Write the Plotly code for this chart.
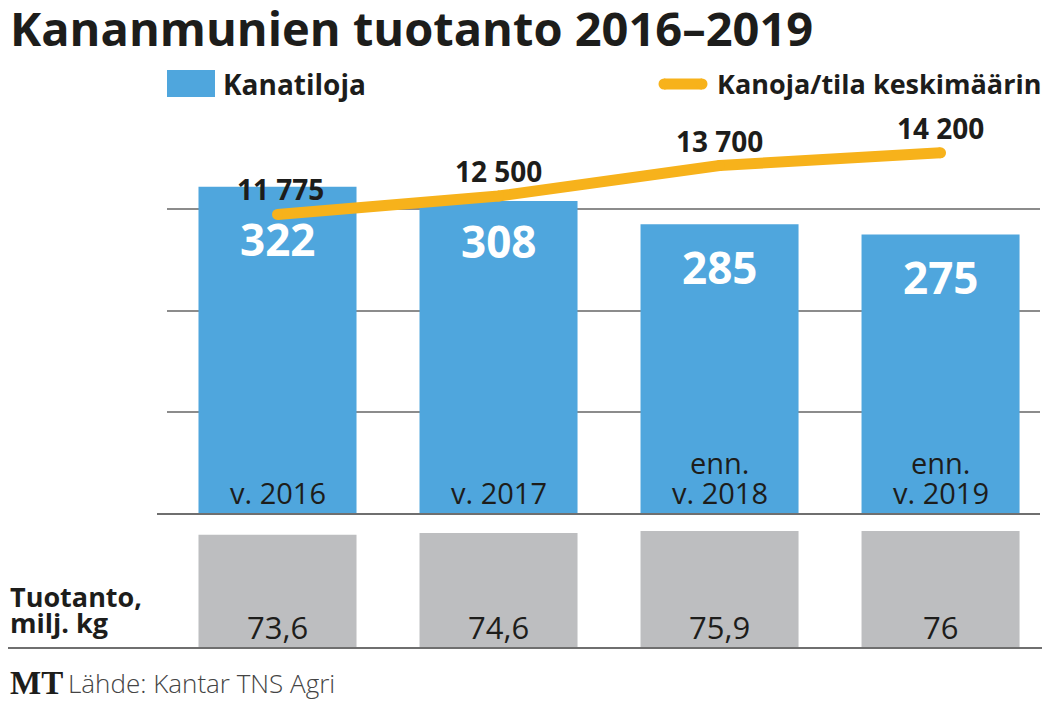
import plotly.graph_objects as go

# data
years = ["2016", "2017", "2018", "2019"]
farms = [322, 308, 285, 275]
hens_per_farm = [11775, 12500, 13700, 14200]
hens_labels = ["11 775", "12 500", "13 700", "14 200"]
year_labels = ["v. 2016", "v. 2017", "v. 2018", "v. 2019"]
year_prefix = ["", "", "enn.", "enn."]
production = [73.6, 74.6, 75.9, 76]
production_labels = ["73,6", "74,6", "75,9", "76"]

BLUE = "#4fa6dd"
GREY = "#bdbec0"
ORANGE = "#f7b21b"
DARK = "#1d1d1b"
FONT = "Open Sans, Noto Sans, sans-serif"

# the page puts the figure 8px in from the top-left corner,
# so the figure is 8px smaller and positions below are page pixels
OFF = 8
WIDTH, HEIGHT = 1050 - OFF, 702 - OFF
PLOT_L, PLOT_R, PLOT_T, PLOT_B = 167, 1040, 107, 648
L, T = PLOT_L - OFF, PLOT_T - OFF
R, B = WIDTH - (PLOT_R - OFF), HEIGHT - (PLOT_B - OFF)
PW = PLOT_R - PLOT_L
PH = PLOT_B - PLOT_T
split = (648 - 514) / PH


def px(x):
    return (x - PLOT_L) / PW


def py(y):
    return (PLOT_B - y) / PH


idx = list(range(len(years)))

fig = go.Figure()

fig.add_trace(go.Bar(
    x=idx, y=farms, marker=dict(color=BLUE, line=dict(width=0)),
    xaxis="x", yaxis="y", hoverinfo="skip",
))
fig.add_trace(go.Scatter(
    x=idx, y=hens_per_farm, mode="lines+markers",
    line=dict(color=ORANGE, width=11),
    marker=dict(color=ORANGE, size=11),
    xaxis="x", yaxis="y2", hoverinfo="skip",
))
fig.add_trace(go.Bar(
    x=idx, y=production, marker=dict(color=GREY, line=dict(width=0)),
    xaxis="x2", yaxis="y3", hoverinfo="skip",
))

ann = []

# bar value labels
value_shift = [-52, -40, -43, -42]
for i, v, s in zip(idx, farms, value_shift):
    ann.append(dict(x=i, y=v, xref="x", yref="y", text=str(v), showarrow=False,
                    yanchor="middle", yshift=s,
                    font=dict(family=FONT, size=44, color="white", weight="bold")))

# line labels
line_xshift = [3, 0, 0, 0]
for i, v, t, xs in zip(idx, hens_per_farm, hens_labels, line_xshift):
    ann.append(dict(x=i, y=v, xref="x", yref="y2", text=t, showarrow=False,
                    yanchor="middle", yshift=25, xshift=xs,
                    font=dict(family=FONT, size=28, color=DARK, weight="bold")))

# year labels inside bars
for i, t, p in zip(idx, year_labels, year_prefix):
    ann.append(dict(x=i, y=0, xref="x", yref="y", text=t, showarrow=False,
                    yanchor="middle", yshift=22,
                    font=dict(family=FONT, size=29, color=DARK)))
    if p:
        ann.append(dict(x=i, y=0, xref="x", yref="y", text=p, showarrow=False,
                        yanchor="middle", yshift=52,
                        font=dict(family=FONT, size=29, color=DARK)))

# production labels
for i, t in zip(idx, production_labels):
    ann.append(dict(x=i, y=0, xref="x2", yref="y3", text=t, showarrow=False,
                    yanchor="middle", yshift=21,
                    font=dict(family=FONT, size=31, color=DARK)))

# title, legend texts, side labels, source
ann += [
    dict(x=px(8), y=py(28), xref="paper", yref="paper", xanchor="left", yanchor="middle",
         text="Kananmunien tuotanto 2016–2019", showarrow=False,
         font=dict(family=FONT, size=47, color=DARK, weight="bold")),
    dict(x=px(221), y=py(84), xref="paper", yref="paper", xanchor="left", yanchor="middle",
         text="Kanatiloja", showarrow=False,
         font=dict(family=FONT, size=28, color=DARK, weight="bold")),
    dict(x=px(715), y=py(84), xref="paper", yref="paper", xanchor="left", yanchor="middle",
         text="Kanoja/tila keskimäärin", showarrow=False,
         font=dict(family=FONT, size=27, color=DARK, weight="bold")),
    dict(x=px(8), y=py(596), xref="paper", yref="paper", xanchor="left", yanchor="middle",
         text="Tuotanto,", showarrow=False,
         font=dict(family=FONT, size=27, color=DARK, weight="bold")),
    dict(x=px(8), y=py(622), xref="paper", yref="paper", xanchor="left", yanchor="middle",
         text="milj. kg", showarrow=False,
         font=dict(family=FONT, size=27, color=DARK, weight="bold")),
    dict(x=px(8), y=py(683), xref="paper", yref="paper", xanchor="left", yanchor="middle",
         text="MT", showarrow=False,
         font=dict(family="Liberation Serif, DejaVu Serif, serif", size=33, color=DARK,
                   weight="bold")),
    dict(x=px(66), y=py(683), xref="paper", yref="paper", xanchor="left", yanchor="middle",
         text="Lähde: Kantar TNS Agri", showarrow=False,
         font=dict(family=FONT, size=26, color="#444444", weight=300)),
]

shapes = [
    # legend swatches
    dict(type="rect", xref="paper", yref="paper", x0=px(167), x1=px(215),
         y0=py(70), y1=py(97), fillcolor=BLUE, line=dict(width=0)),
    dict(type="line", xref="paper", yref="paper", x0=px(664), x1=px(702),
         y0=py(84), y1=py(84), line=dict(color=ORANGE, width=11)),
    dict(type="circle", xref="paper", yref="paper", x0=px(658.5), x1=px(669.5),
         y0=py(78.5), y1=py(89.5), fillcolor=ORANGE, line=dict(width=0)),
    dict(type="circle", xref="paper", yref="paper", x0=px(696.5), x1=px(707.5),
         y0=py(78.5), y1=py(89.5), fillcolor=ORANGE, line=dict(width=0)),
    # baselines
    dict(type="line", xref="paper", yref="paper", x0=px(157), x1=px(1040),
         y0=py(514), y1=py(514), line=dict(color="#6f6f6f", width=2), layer="above"),
    dict(type="line", xref="paper", yref="paper", x0=px(8), x1=px(1050),
         y0=py(648), y1=py(648), line=dict(color="#6f6f6f", width=2), layer="above"),
]

fig.update_layout(
    width=WIDTH, height=HEIGHT,
    margin=dict(l=L, r=R, t=T, b=B, pad=0),
    paper_bgcolor="white", plot_bgcolor="white",
    showlegend=False, bargap=0.285,
    xaxis=dict(domain=[0, 1], anchor="y", range=[-0.5, 3.45], showticklabels=False,
               showgrid=False, zeroline=False, showline=False, ticks=""),
    yaxis=dict(domain=[split, 1], anchor="x", range=[0, 400.5], dtick=100,
               showticklabels=False, showgrid=True, gridcolor="#8c8c8c", gridwidth=1.5,
               zeroline=False, showline=False, ticks=""),
    yaxis2=dict(overlaying="y", range=[0, 16000], visible=False),
    xaxis2=dict(domain=[0, 1], anchor="y3", range=[-0.5, 3.45], showticklabels=False,
                showgrid=False, zeroline=False, showline=False, ticks=""),
    yaxis3=dict(domain=[0, split], anchor="x2", range=[0, 87], showticklabels=False,
                showgrid=False, zeroline=False, showline=False, ticks=""),
    annotations=ann, shapes=shapes,
)

fig.write_html("out.html")
